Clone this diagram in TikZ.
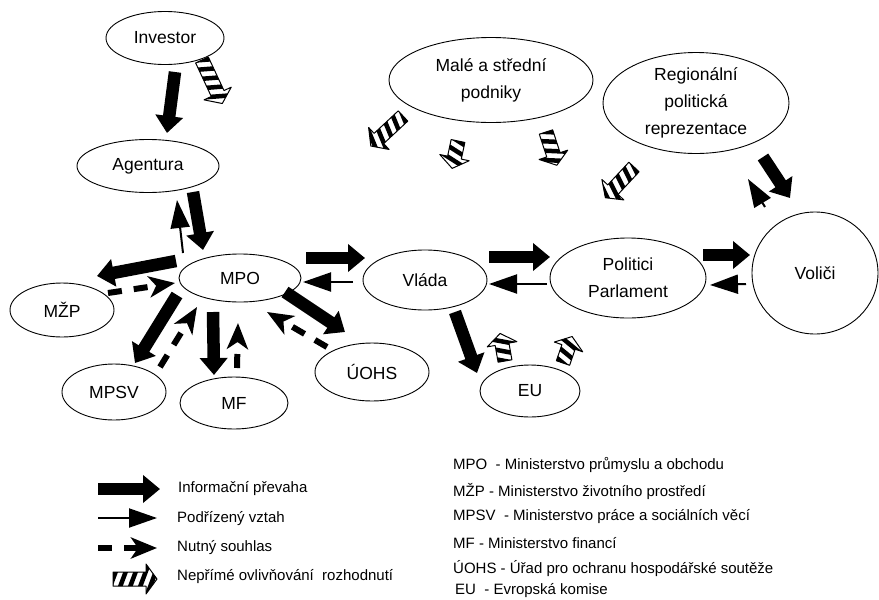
\documentclass[tikz,border=0pt]{standalone}
\usepackage{fontspec}
\setmainfont{Liberation Sans}
\usetikzlibrary{shapes.geometric,arrows.meta}
\begin{document}
\begin{tikzpicture}[x=1pt,y=-1pt,
  ell/.style={ellipse, draw, line width=0.9pt, inner sep=-6pt, align=center,
    font=\fontsize{17.5}{27}\selectfont},
  info/.style={line width=12.5pt, -{Triangle[length=17pt,width=27pt]}},
  sub/.style={line width=2pt, -{Triangle[length=28pt,width=19pt]}},
  need/.style={line width=6pt, dash pattern=on 14pt off 12pt,
    -{Stealth[length=26pt,width=21pt,inset=7pt]}},
  leg/.style={font=\fontsize{15}{18}\selectfont, anchor=west, inner sep=0pt},
  pics/hatcharrow/.style={code={
    \def\hL{#1}
    \begin{scope}
      \clip (0,-7) -- (\hL-11,-7) -- (\hL-11,-15) -- (\hL,0) -- (\hL-11,15) -- (\hL-11,7) -- (0,7) -- cycle;
      \foreach \k in {-16,-6,...,70} \draw[line width=4.5pt] (\k,16) -- (\k+12,-16);
    \end{scope}
    \draw[line width=1pt, line join=round] (0,-7) -- (\hL-11,-7) -- (\hL-11,-15) -- (\hL,0) -- (\hL-11,15) -- (\hL-11,7) -- (0,7) -- cycle;
  }}
]
\useasboundingbox (0,0) rectangle (879,600);
\fill[white] (0,0) rectangle (879,600);

% nodes
\node[ell, minimum width=118pt, minimum height=53pt] (inv) at (165,38) {Investor};
\node[ell, minimum width=142pt, minimum height=53pt] (agt) at (148,166) {Agentura};
\node[ell, minimum width=122pt, minimum height=48pt] (mpo) at (240,278) {MPO};
\node[ell, minimum width=104pt, minimum height=54pt] (mzp) at (62,310) {MŽP};
\node[ell, minimum width=104pt, minimum height=56pt] (mpsv) at (114,392) {MPSV};
\node[ell, minimum width=108pt, minimum height=52pt] (mf) at (234,403) {MF};
\node[ell, minimum width=114pt, minimum height=58pt] (uohs) at (372,372) {ÚOHS};
\node[ell, minimum width=124pt, minimum height=60pt] (vlada) at (425,280) {Vláda};
\node[ell, minimum width=100pt, minimum height=52pt] (eu) at (530,391) {EU};
\node[ell, minimum width=156pt, minimum height=80pt] (pol) at (628,278) {Politici\\Parlament};
\node[ell, minimum width=126pt, minimum height=122pt] (vol) at (815,273) {Voliči};
\node[ell, minimum width=186pt, minimum height=101pt] (reg) at (696,103) {Regionální\\politická\\reprezentace};
\node[ell, minimum width=204pt, minimum height=85pt] (msp) at (491,80) {Malé a střední\\podniky};

% connector end points
\coordinate (a1s) at (175,72);  \coordinate (a1e) at (167,133);
\coordinate (a2s) at (193,192); \coordinate (a2e) at (203,250);
\coordinate (a3s) at (176,261); \coordinate (a3e) at (97,276);
\coordinate (a4s) at (177,295); \coordinate (a4e) at (135,363);
\coordinate (a5s) at (213,312); \coordinate (a5e) at (214,375);
\coordinate (a6s) at (285,292); \coordinate (a6e) at (345,332);
\coordinate (a7s) at (306,258); \coordinate (a7e) at (365,258);
\coordinate (a8s) at (489,257); \coordinate (a8e) at (550,257);
\coordinate (a9s) at (455,312); \coordinate (a9e) at (477,373);
\coordinate (a10s) at (763,157); \coordinate (a10e) at (790,198);
\coordinate (a11s) at (703,255); \coordinate (a11e) at (750,255);

\coordinate (t1s) at (183,253); \coordinate (t1e) at (177,200);
\coordinate (t2s) at (353,282); \coordinate (t2e) at (303,282);
\coordinate (t3s) at (547,284); \coordinate (t3e) at (489,284);
\coordinate (t4s) at (765,207); \coordinate (t4e) at (748,179);
\coordinate (t5s) at (746,284); \coordinate (t5e) at (710,285);

\coordinate (d1s) at (108,293); \coordinate (d1e) at (175,283);
\coordinate (d2s) at (160,367); \coordinate (d2e) at (197,307);
\coordinate (d3s) at (237,368); \coordinate (d3e) at (238,323);
\coordinate (d4s) at (327,347); \coordinate (d4e) at (267,312);

% Informační převaha
\draw[info] (a1s) -- (a1e);
\draw[info] (a2s) -- (a2e);
\draw[info] (a3s) -- (a3e);
\draw[info] (a4s) -- (a4e);
\draw[info] (a5s) -- (a5e);
\draw[info] (a6s) -- (a6e);
\draw[info] (a7s) -- (a7e);
\draw[info] (a8s) -- (a8e);
\draw[info] (a9s) -- (a9e);
\draw[info] (a10s) -- (a10e);
\draw[info] (a11s) -- (a11e);

% Podřízený vztah
\draw[sub] (t1s) -- (t1e);
\draw[sub] (t2s) -- (t2e);
\draw[sub] (t3s) -- (t3e);
\draw[sub] (t4s) -- (t4e);
\draw[sub] (t5s) -- (t5e);

% Nutný souhlas
\draw[need] (d1s) -- (d1e);
\draw[need] (d2s) -- (d2e);
\draw[need] (d3s) -- (d3e);
\draw[need] (d4s) -- (d4e);

% Nepřímé ovlivňování
\coordinate (h1) at (202,60);
\coordinate (h2) at (505,361);
\coordinate (h3) at (563,363);
\coordinate (h4) at (403,116);
\coordinate (h5) at (458,141);
\coordinate (h6) at (546,132);
\coordinate (h7) at (634,167);
\pic[rotate=-65] at (h1) {hatcharrow=48};
\pic[rotate=100] at (h2) {hatcharrow=28};
\pic[rotate=71] at (h3) {hatcharrow=28};
\pic[rotate=-137] at (h4) {hatcharrow=44};
\pic[rotate=-102] at (h5) {hatcharrow=28};
\pic[rotate=-72] at (h6) {hatcharrow=35};
\pic[rotate=-133] at (h7) {hatcharrow=42};

% legend left
\coordinate (l1s) at (98,489); \coordinate (l1e) at (160,489);
\coordinate (l2s) at (98,518); \coordinate (l2e) at (157,518);
\coordinate (l3s) at (98,548); \coordinate (l3e) at (157,548);
\coordinate (l4s) at (113,579);
\draw[info] (l1s) -- (l1e);
\draw[sub] (l2s) -- (l2e);
\draw[need] (l3s) -- (l3e);
\pic at (l4s) {hatcharrow=44};
\node[leg] (lt1) at (178,489) {Informační převaha};
\node[leg] (lt2) at (177,519) {Podřízený vztah};
\node[leg] (lt3) at (177,548) {Nutný souhlas};
\node[leg] (lt4) at (177,577) {Nepřímé ovlivňování\ \ rozhodnutí};

% legend right
\node[leg] (r1) at (453,465) {MPO\ \ - Ministerstvo průmyslu a obchodu};
\node[leg] (r2) at (453,491) {MŽP - Ministerstvo životního prostředí};
\node[leg] (r3) at (453,517) {MPSV\ \ - Ministerstvo práce a sociálních věcí};
\node[leg] (r4) at (453,543) {MF - Ministerstvo financí};
\node[leg] (r5) at (453,569) {ÚOHS - Úřad pro ochranu hospodářské soutěže};
\node[leg] (r6) at (455,591) {EU\ \ - Evropská komise};
\end{tikzpicture}
\end{document}
